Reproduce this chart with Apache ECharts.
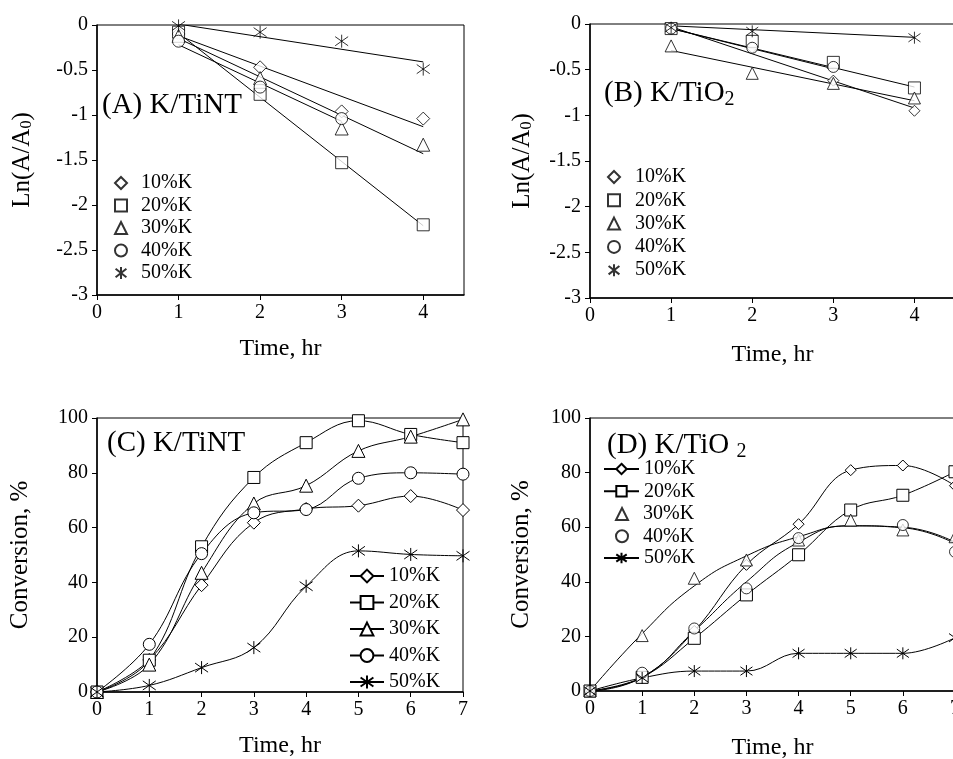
<!DOCTYPE html>
<html><head><meta charset="utf-8">
<script src="https://cdn.jsdelivr.net/npm/echarts@6/dist/echarts.min.js"></script>
<style>html,body{margin:0;padding:0;background:#fff}#c{width:953px;height:759px}</style>
</head><body><div id="c"></div><script>
// ---------- data ----------
const labels = ['10%K','20%K','30%K','40%K','50%K'];
const xTicksAB = [0,1,2,3,4];
const timeAB = [1,2,3,4];
// Panel A  K/TiNT  Ln(A/A0)
const A10 = [-0.10, -0.47, -0.96, -1.04];
const A20 = [-0.08, -0.77, -1.53, -2.22];
const A30 = [-0.12, -0.59, -1.15, -1.33];
const A40 = [-0.18, -0.69, -1.04, null];
const A50 = [-0.01, -0.08, -0.18, -0.49];
const fitA10 = [[1,-0.12],[4,-1.13]];
const fitA20 = [[1,-0.09],[4,-2.23]];
const fitA30 = [[1,-0.15],[4,-1.43]];
const fitA40 = [[1,-0.22],[3,-1.07]];
const fitA50 = [[1,0.01],[4,-0.41]];
// Panel B  K/TiO2  Ln(A/A0)
const B10 = [-0.05, -0.26, -0.62, -0.95];
const B20 = [-0.05, -0.19, -0.42, -0.70];
const B30 = [-0.24, -0.54, -0.65, -0.81];
const B40 = [-0.05, -0.26, -0.47, null];
const B50 = [-0.04, -0.08, null, -0.15];
const fitB10 = [[1,-0.03],[4,-0.92]];
const fitB20 = [[1,-0.05],[4,-0.69]];
const fitB30 = [[1,-0.29],[4,-0.84]];
const fitB40 = [[1,-0.05],[3,-0.49]];
const fitB50 = [[1,-0.02],[4,-0.146]];
// Panel C  K/TiNT  Conversion %
const timeCD = [0,1,2,3,4,5,6,7];
const C10 = [0, 11.7, 39, 61.8, 66.8, 68, 71.5, 66.4];
const C20 = [0, 11.6, 53, 78.3, 91, 99, 94, 91];
const C30 = [0, 10, 43.5, 68.8, 75.3, 88, 93.2, 99.5];
const C40 = [0, 17.4, 50.5, 65.4, 66.6, 78, 80, 79.5];
const C50 = [0, 2.4, 8.9, 16.2, 38.6, 51.5, 50.2, 49.7];
// Panel D  K/TiO2  Conversion %
const D10 = [0, 5, 22, 46.2, 61.1, 80.9, 82.6, 75.2];
const D20 = [0, 5, 19.3, 35.2, 49.9, 66.3, 71.7, 80.3];
const D30 = [0, 20.3, 41.3, 48, 55.3, 62.6, 59, 56.5];
const D40 = [0, 6.7, 22.9, 37.6, 56, null, 60.8, 51];
const D50 = [0, 4.8, 7.3, 7.3, 13.8, 13.8, 13.8, 19.5];
const trendD30 = [0, 21, 38.5, 49.5, 56.5, 60.5, 60, 54.5];
const trendD40 = [0, 5, 22, 40, 54.5, 60.5, 59.8, 54];

// ---------- styling ----------
const FONT = 'Liberation Serif';
const STAR = 'path://M0,-10L0,10M-9,-7L9,7M-9,7L9,-7';
const SYMBOLS = ['diamond','rect','triangle','circle',STAR];
const SIZES_AC = [13,12,13,12,13];
const SIZES_BD = [11,12,12,11,12];
const mk = {color:'#fff', borderColor:'#000', borderWidth:1};
const txt = {fontFamily:FONT, color:'#000', fontWeight:'normal'};

function xAxis(g, max, customVals, gap){
  const o = {type:'value', gridIndex:g, min:0, max:max, interval:1,
    name:'Time, hr', nameLocation:'middle', nameGap:gap,
    nameTextStyle:Object.assign({fontSize:24}, txt),
    axisLine:{onZero:false, lineStyle:{color:'#000', width:1.5}},
    axisTick:{length:5, lineStyle:{color:'#000', width:1}},
    axisLabel:Object.assign({fontSize:20, margin:8}, txt),
    splitLine:{show:false}};
  if (customVals){ o.axisTick.customValues = customVals; o.axisLabel.customValues = customVals; }
  return o;
}
function yAxis(g, min, max, interval, name, gap){
  return {type:'value', gridIndex:g, min:min, max:max, interval:interval,
    name:name, nameLocation:'middle', nameGap:gap, nameRotate:90,
    nameTextStyle:Object.assign({fontSize:25, rich:{
      m:{fontFamily:FONT, fontSize:25, color:'#000', fontWeight:'normal'},
      s:{fontFamily:FONT, fontSize:16, color:'#000', fontWeight:'normal', padding:[10,0,0,0]}}}, txt),
    axisLine:{onZero:false, lineStyle:{color:'#000', width:1.5}},
    axisTick:{length:5, lineStyle:{color:'#000', width:1}},
    axisLabel:Object.assign({fontSize:20, margin:9}, txt),
    splitLine:{show:false}};
}

const series = [];
function fitLine(idx, pts){
  series.push({type:'line', xAxisIndex:idx, yAxisIndex:idx, data:pts, symbol:'none',
    lineStyle:{color:'#000', width:1}, silent:true, z:1});
}
function scatter(idx, prefix, i, xs, ys, sizes){
  series.push({type:'scatter', name:prefix+labels[i], xAxisIndex:idx, yAxisIndex:idx,
    data: xs.map((t,j)=>[t, ys[j]]).filter(p=>p[1]!==null),
    symbol:SYMBOLS[i], symbolSize:sizes[i], itemStyle:mk, z:3});
}
function smoothLine(idx, prefix, i, xs, ys, sizes){
  series.push({type:'line', name:prefix+labels[i], xAxisIndex:idx, yAxisIndex:idx,
    data: xs.map((t,j)=>[t, ys[j]]).filter(p=>p[1]!==null),
    smooth:0.4, symbol:SYMBOLS[i], symbolSize:sizes[i], showAllSymbol:true,
    itemStyle:mk, lineStyle:{color:'#000', width:1}, z:3});
}

// Panel A
[fitA10, fitA20, fitA30, fitA40, fitA50].forEach(p=>fitLine(0,p));
[A10, A20, A30, A40, A50].forEach((d,i)=>scatter(0,'A',i,timeAB,d,SIZES_AC));
// Panel B
[fitB10, fitB20, fitB30, fitB40, fitB50].forEach(p=>fitLine(1,p));
[B10, B20, B30, B40, B50].forEach((d,i)=>scatter(1,'B',i,timeAB,d,SIZES_BD));
// Panel C
[C10, C20, C30, C40, C50].forEach((d,i)=>smoothLine(2,'C',i,timeCD,d,SIZES_AC));
// Panel D
series.push({type:'line', xAxisIndex:3, yAxisIndex:3, data:timeCD.map((t,j)=>[t,trendD30[j]]),
  smooth:0.5, symbol:'none', lineStyle:{color:'#000', width:1}, silent:true, z:1});
series.push({type:'line', xAxisIndex:3, yAxisIndex:3, data:timeCD.map((t,j)=>[t,trendD40[j]]),
  smooth:0.5, symbol:'none', lineStyle:{color:'#000', width:1}, silent:true, z:1});
smoothLine(3,'D',0,timeCD,D10,SIZES_BD);
smoothLine(3,'D',1,timeCD,D20,SIZES_BD);
scatter(3,'D',2,timeCD,D30,SIZES_BD);
scatter(3,'D',3,timeCD,D40,SIZES_BD);
smoothLine(3,'D',4,timeCD,D50,SIZES_BD);

function legend(names, left, top, w, h, gap, pad){
  return {orient:'vertical', left:left, top:top, itemWidth:w, itemHeight:h, itemGap:gap,
    padding:0, selectedMode:false, data:names,
    formatter:n=>n.slice(1),
    textStyle:{fontFamily:FONT, fontSize:20, color:'#000', padding:[0,0,0,pad]}};
}
const pre = (p, idx) => idx.map(i => p + labels[i]);

const gridStyle = {show:true, borderColor:'#000', borderWidth:1, backgroundColor:'transparent',
  containLabel:false, outerBoundsMode:'none'};
const titleRich = {
  m:{fontFamily:FONT, fontSize:29, color:'#000', fontWeight:'normal'},
  s:{fontFamily:FONT, fontSize:20, color:'#000', fontWeight:'normal', padding:[14,0,0,0]}};
const option = {
  animation:false,
  backgroundColor:'#fff',
  title:[
    {text:'(A) K/TiNT', left:102, top:91, padding:0,
      textStyle:{fontFamily:FONT, fontSize:29, fontWeight:'normal', color:'#000'}},
    {text:'{m|(B) K/TiO}{s|2}', left:604, top:76, padding:0,
      textStyle:{fontWeight:'normal', rich:titleRich}},
    {text:'(C) K/TiNT', left:107, top:429, padding:0,
      textStyle:{fontFamily:FONT, fontSize:29, fontWeight:'normal', color:'#000'}},
    {text:'{m|(D) K/TiO }{s|2}', left:607, top:428, padding:0,
      textStyle:{fontWeight:'normal', rich:titleRich}}
  ],
  grid:[
    Object.assign({left:97, top:25, width:367, height:270}, gridStyle),
    Object.assign({left:590, top:24, width:365, height:274}, gridStyle),
    Object.assign({left:97, top:418, width:366, height:274}, gridStyle),
    Object.assign({left:590, top:418, width:365, height:273}, gridStyle)
  ],
  xAxis:[
    xAxis(0, 4.5, xTicksAB, 42),
    xAxis(1, 4.5, xTicksAB, 45),
    xAxis(2, 7, null, 42),
    xAxis(3, 7, null, 45)
  ],
  yAxis:[
    yAxis(0, -3, 0, 0.5, '{m|Ln(A/A}{s|0}{m|)}', 62),
    yAxis(1, -3, 0, 0.5, '{m|Ln(A/A}{s|0}{m|)}', 55),
    yAxis(2, 0, 100, 20, 'Conversion, %', 64),
    yAxis(3, 0, 100, 20, 'Conversion, %', 56)
  ],
  legend:[
    legend(pre('A',[0,1,2,3,4]), 114, 173, 12, 12, 2.5, 9),
    legend(pre('B',[0,1,2,3,4]), 607, 167, 12, 12, 3.3, 10),
    legend(pre('C',[0,1,2,3,4]), 349, 566, 34, 16, 6.5, 0),
    legend(pre('D',[0,1]), 603, 459, 35, 13, 2.3, 0),
    legend(pre('D',[2,3]), 615, 504, 12, 12, 2.3, 10),
    legend(pre('D',[4]), 603, 548, 35, 13, 2.3, 0)
  ],
  series:series
};
const chart = echarts.init(document.getElementById('c'), null, {renderer:'canvas'});
chart.setOption(option);
</script></body></html>
